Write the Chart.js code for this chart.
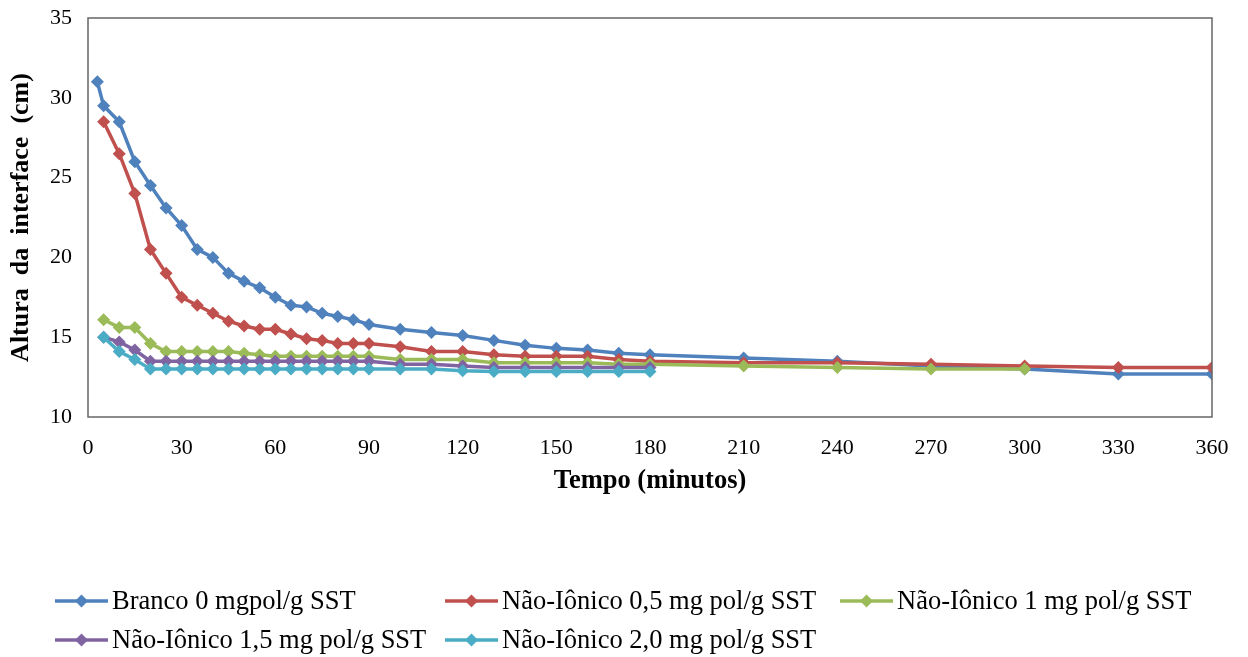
<!DOCTYPE html>
<html lang="pt">
<head>
    <meta charset="UTF-8">
    <title>Altura da interface</title>
    <script src="https://cdn.jsdelivr.net/npm/chart.js@4.4.0/dist/chart.umd.min.js"></script>
    <style>
        html, body { margin: 0; padding: 0; background: #fff; }
        #wrap { width: 1248px; height: 657px; }
    </style>
</head>
<body>
<div id="wrap"><canvas id="myChart" width="1248" height="657"></canvas></div>
<script>
    const labels = ['Branco 0 mgpol/g SST', 'Não-Iônico 0,5 mg pol/g SST', 'Não-Iônico 1 mg pol/g SST',
                    'Não-Iônico 1,5 mg pol/g SST', 'Não-Iônico 2,0 mg pol/g SST'];
    const colors = ['#4F81BD', '#C0504D', '#9BBB59', '#8064A2', '#4BACC6'];

    const xTicks = [0, 30, 60, 90, 120, 150, 180, 210, 240, 270, 300, 330, 360];
    const yTicks = [10, 15, 20, 25, 30, 35];

    const tBranco = [3, 5, 10, 15, 20, 25, 30, 35, 40, 45, 50, 55, 60, 65, 70, 75, 80, 85, 90,
                     100, 110, 120, 130, 140, 150, 160, 170, 180, 210, 240, 270, 300, 330, 360];
    const hBranco = [31, 29.5, 28.5, 26, 24.5, 23.1, 22, 20.5, 20, 19, 18.5, 18.1, 17.5, 17, 16.9, 16.5, 16.3, 16.1, 15.8,
                     15.5, 15.3, 15.1, 14.8, 14.5, 14.3, 14.2, 14, 13.9, 13.7, 13.5, 13.2, 13.0, 12.7, 12.7];

    const tNI05 = [5, 10, 15, 20, 25, 30, 35, 40, 45, 50, 55, 60, 65, 70, 75, 80, 85, 90,
                   100, 110, 120, 130, 140, 150, 160, 170, 180, 210, 240, 270, 300, 330, 360];
    const hNI05 = [28.5, 26.5, 24, 20.5, 19, 17.5, 17, 16.5, 16, 15.7, 15.5, 15.5, 15.2, 14.9, 14.8, 14.6, 14.6, 14.6,
                   14.4, 14.1, 14.1, 13.9, 13.8, 13.8, 13.8, 13.6, 13.5, 13.4, 13.4, 13.3, 13.2, 13.1, 13.1];

    const tNI1 = [5, 10, 15, 20, 25, 30, 35, 40, 45, 50, 55, 60, 65, 70, 75, 80, 85, 90,
                  100, 110, 120, 130, 140, 150, 160, 170, 180, 210, 240, 270, 300];
    const hNI1 = [16.1, 15.6, 15.6, 14.6, 14.1, 14.1, 14.1, 14.1, 14.1, 14.0, 13.9, 13.8, 13.8, 13.8, 13.8, 13.8, 13.8, 13.8,
                  13.6, 13.6, 13.6, 13.4, 13.4, 13.4, 13.4, 13.3, 13.3, 13.2, 13.1, 13.0, 13.0];

    const tNI15 = [5, 10, 15, 20, 25, 30, 35, 40, 45, 50, 55, 60, 65, 70, 75, 80, 85, 90,
                   100, 110, 120, 130, 140, 150, 160, 170, 180];
    const hNI15 = [15.0, 14.7, 14.2, 13.5, 13.5, 13.5, 13.5, 13.5, 13.5, 13.5, 13.5, 13.5, 13.5, 13.5, 13.5, 13.5, 13.5, 13.5,
                   13.3, 13.3, 13.2, 13.1, 13.1, 13.1, 13.1, 13.1, 13.1];

    const tNI2 = [5, 10, 15, 20, 25, 30, 35, 40, 45, 50, 55, 60, 65, 70, 75, 80, 85, 90,
                  100, 110, 120, 130, 140, 150, 160, 170, 180];
    const hNI2 = [15.0, 14.1, 13.6, 13.0, 13.0, 13.0, 13.0, 13.0, 13.0, 13.0, 13.0, 13.0, 13.0, 13.0, 13.0, 13.0, 13.0, 13.0,
                  13.0, 13.0, 12.9, 12.85, 12.85, 12.85, 12.85, 12.85, 12.85];

    const series = [[tBranco, hBranco], [tNI05, hNI05], [tNI1, hNI1], [tNI15, hNI15], [tNI2, hNI2]];

    const serif = "'Liberation Serif', 'Times New Roman', serif";

    // moldura da área do gráfico + legenda em colunas (como no Excel)
    const framePlugin = {
        id: 'frame',
        afterDraw(chart) {
            const ctx = chart.ctx;
            const a = chart.chartArea;
            ctx.save();
            ctx.strokeStyle = '#666';
            ctx.lineWidth = 1.5;
            ctx.strokeRect(a.left, a.top, a.right - a.left, a.bottom - a.top);

            const cols = [55, 445, 840];
            const rows = [601, 640];
            ctx.font = '26.5px ' + serif;
            ctx.textBaseline = 'middle';
            chart.data.datasets.forEach((ds, i) => {
                const x = cols[i % 3], y = rows[Math.floor(i / 3)];
                ctx.strokeStyle = ds.borderColor;
                ctx.lineWidth = 3.5;
                ctx.beginPath();
                ctx.moveTo(x, y);
                ctx.lineTo(x + 53, y);
                ctx.stroke();
                ctx.fillStyle = ds.borderColor;
                ctx.beginPath();
                ctx.moveTo(x + 26.5, y - 6.5);
                ctx.lineTo(x + 33, y);
                ctx.lineTo(x + 26.5, y + 6.5);
                ctx.lineTo(x + 20, y);
                ctx.closePath();
                ctx.fill();
                ctx.fillStyle = '#000';
                ctx.fillText(ds.label, x + 57, y + 1);
            });
            ctx.restore();
        }
    };

    const ctx = document.getElementById('myChart').getContext('2d');
    const myChart = new Chart(ctx, {
        type: 'line',
        data: {
            datasets: series.map((s, i) => ({
                label: labels[i],
                data: s[0].map((t, j) => ({ x: t, y: s[1][j] })),
                borderColor: colors[i],
                backgroundColor: colors[i],
                borderWidth: 3.5,
                pointStyle: 'rectRot',
                pointRadius: 6.5,
                pointBorderWidth: 0,
                pointHoverRadius: 7,
                fill: false,
                tension: 0,
                order: 4 - i
            }))
        },
        options: {
            responsive: false,
            animation: false,
            devicePixelRatio: 1,
            layout: {
                padding: { left: 0, right: 36, top: 18, bottom: 160 }
            },
            plugins: {
                legend: { display: false },
                tooltip: { enabled: false }
            },
            scales: {
                x: {
                    type: 'linear',
                    min: 0,
                    max: 360,
                    afterBuildTicks: axis => { axis.ticks = xTicks.map(v => ({ value: v })); },
                    afterFit: axis => {
                        axis.height = 80;
                        axis.paddingLeft = 0;
                        axis.paddingRight = 0;
                    },
                    grid: { display: false, drawTicks: false },
                    border: { display: false },
                    ticks: {
                        padding: 18,
                        color: '#000',
                        font: { family: serif, size: 22 }
                    },
                    title: {
                        display: true,
                        text: 'Tempo (minutos)',
                        color: '#000',
                        padding: 0,
                        font: { family: serif, size: 26.5, weight: 'bold' }
                    }
                },
                y: {
                    min: 10,
                    max: 35,
                    afterBuildTicks: axis => { axis.ticks = yTicks.map(v => ({ value: v })); },
                    afterFit: axis => {
                        axis.width = 88;
                        axis.paddingTop = 0;
                        axis.paddingBottom = 0;
                    },
                    grid: { display: false, drawTicks: false },
                    border: { display: false },
                    ticks: {
                        padding: 16,
                        color: '#000',
                        font: { family: serif, size: 22 }
                    },
                    title: {
                        display: true,
                        text: 'Altura  da  interface  (cm)',
                        color: '#000',
                        padding: { top: 6, bottom: 0 },
                        font: { family: serif, size: 26, weight: 'bold' }
                    }
                }
            }
        },
        plugins: [framePlugin]
    });
</script>
</body>
</html>
